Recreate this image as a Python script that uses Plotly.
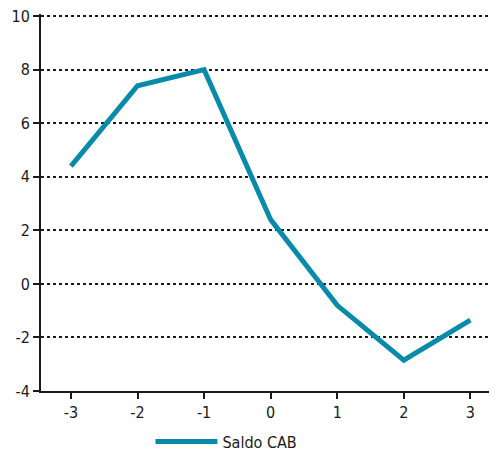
import plotly.graph_objects as go

years = [-3, -2, -1, 0, 1, 2, 3]
saldo_cab = [4.4, 7.4, 8.0, 2.4, -0.8, -2.85, -1.35]
x_labels = ["-3", "-2", "-1", "0", "1", "2", "3"]
y_ticks = [-4, -2, 0, 2, 4, 6, 8, 10]
y_labels = ["-4", "-2", "0", "2", "4", "6", "8", "10"]

fig = go.Figure(
    go.Scatter(
        x=years,
        y=saldo_cab,
        mode="lines",
        name="Saldo CAB",
        line={"color": "#0a8aa9", "width": 5},
    )
)

# page body has an 8px margin, so the figure is sized and offset for it
fig.update_layout(
    width=489,
    height=446,
    template="plotly_white",
    margin={"l": 33, "r": 0, "t": 6, "b": 63},
    paper_bgcolor="white",
    plot_bgcolor="white",
    font={"family": "DejaVu Sans Condensed, sans-serif", "color": "#1a1a1a", "size": 16},
    showlegend=True,
    legend={
        "orientation": "h",
        "x": 0.24,
        "xanchor": "left",
        "yref": "container",
        "y": 0.028,
        "yanchor": "middle",
        "font": {"size": 16},
        "itemwidth": 62,
    },
)
fig.update_xaxes(
    range=[-3.45, 3.4],
    tickvals=years,
    ticktext=x_labels,
    automargin=False,
    showgrid=False,
    zeroline=False,
    showline=True,
    linecolor="#1a1a1a",
    linewidth=2,
    ticks="outside",
    ticklen=6,
    tickwidth=2,
    tickcolor="#1a1a1a",
)
fig.update_yaxes(
    range=[-4, 10.08],
    tickvals=y_ticks,
    ticktext=y_labels,
    automargin=False,
    ticklabeloverflow="allow",
    showgrid=True,
    gridcolor="#1a1a1a",
    griddash="dot",
    gridwidth=1.5,
    zeroline=False,
    showline=True,
    linecolor="#1a1a1a",
    linewidth=2,
    ticks="outside",
    ticklen=6,
    tickwidth=2,
    tickcolor="#1a1a1a",
)

fig.write_html("out.html")
